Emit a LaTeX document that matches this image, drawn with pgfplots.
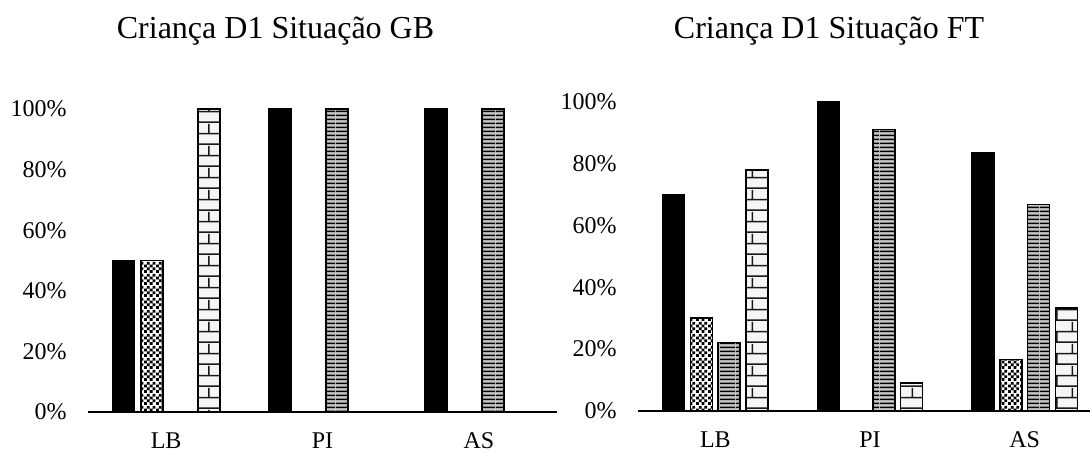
\documentclass[border=0pt]{standalone}
\usepackage{fontspec}
\setmainfont{Liberation Serif}
\usepackage{pgfplots}
\pgfplotsset{compat=1.18}
\usetikzlibrary{patterns.meta}

% fill patterns for the four series
\pgfdeclarepattern{
  name=chk, type=uncolored,
  bottom left={\pgfpointorigin}, top right={\pgfpoint{6pt}{6pt}},
  tile size={\pgfpoint{6pt}{6pt}},
  code={
    \pgfpathrectangle{\pgfpoint{0pt}{0pt}}{\pgfpoint{1.5pt}{1.5pt}}
    \pgfpathrectangle{\pgfpoint{3pt}{0pt}}{\pgfpoint{1.5pt}{1.5pt}}
    \pgfpathrectangle{\pgfpoint{1.5pt}{1.5pt}}{\pgfpoint{1.5pt}{1.5pt}}
    \pgfpathrectangle{\pgfpoint{4.5pt}{1.5pt}}{\pgfpoint{1.5pt}{1.5pt}}
    \pgfpathrectangle{\pgfpoint{0pt}{3pt}}{\pgfpoint{1.5pt}{1.5pt}}
    \pgfpathrectangle{\pgfpoint{3pt}{3pt}}{\pgfpoint{1.5pt}{1.5pt}}
    \pgfpathrectangle{\pgfpoint{1.5pt}{4.5pt}}{\pgfpoint{1.5pt}{1.5pt}}
    \pgfpathrectangle{\pgfpoint{4.5pt}{4.5pt}}{\pgfpoint{1.5pt}{1.5pt}}
    \pgfusepath{fill}
  }
}
\pgfdeclarepattern{
  name=hl, type=uncolored,
  bottom left={\pgfpointorigin}, top right={\pgfpoint{8pt}{1.8pt}},
  tile size={\pgfpoint{8pt}{1.8pt}},
  code={
    \pgfpathrectangle{\pgfpoint{0pt}{0.45pt}}{\pgfpoint{8pt}{0.8pt}}
    \pgfusepath{fill}
  }
}
\pgfdeclarepattern{
  name=brk, type=uncolored,
  bottom left={\pgfpointorigin}, top right={\pgfpoint{16pt}{11pt}},
  tile size={\pgfpoint{16pt}{11pt}},
  code={
    \pgfpathrectangle{\pgfpoint{0pt}{0pt}}{\pgfpoint{16pt}{0.8pt}}
    \pgfpathrectangle{\pgfpoint{0pt}{5.5pt}}{\pgfpoint{16pt}{0.8pt}}
    \pgfpathrectangle{\pgfpoint{0pt}{0pt}}{\pgfpoint{0.8pt}{5.5pt}}
    \pgfpathrectangle{\pgfpoint{8pt}{5.5pt}}{\pgfpoint{0.8pt}{5.5pt}}
    \pgfusepath{fill}
  }
}

\pgfplotsset{
  panel/.style={
    scale only axis,
    bar width=11pt,
    ymin=0, ymax=100,
    xmin=-0.5, xmax=2.5,
    xtick={0,1,2}, xticklabels={LB,PI,AS},
    ytick={0,20,40,60,80,100},
    yticklabels={0\%,20\%,40\%,60\%,80\%,100\%},
    axis lines*=left,
    y axis line style={draw=none},
    x axis line style={line width=0.75pt, black},
    major tick length=0pt,
    tick style={draw=none},
    /pgf/number format/assume math mode=true,
    yticklabel style={font=\fontsize{12}{14}\selectfont, anchor=east, inner sep=0pt, xshift=-10.5pt},
    xticklabel style={font=\fontsize{12}{14}\selectfont, anchor=north, inner sep=0pt, yshift=-10pt},
    clip=false,
  },
  s1/.style={draw=black, line width=0.75pt, fill=black},
  s2/.style={draw=black, line width=0.75pt, fill=white, postaction={pattern=chk, pattern color=black}},
  s3/.style={draw=black, line width=0.75pt, fill=gray!45, postaction={pattern=hl, pattern color=black}},
  s4/.style={draw=black, line width=0.75pt, fill=gray!8, postaction={pattern=brk, pattern color=black!90}},
}

\begin{document}
\begin{tikzpicture}
\path[use as bounding box] (0,0) rectangle (545pt,226pt);

\node[font=\fontsize{16}{19}\selectfont, anchor=base] at (137.75pt,207pt) {Criança D1 Situação GB};
\node[font=\fontsize{16}{19}\selectfont, anchor=base] at (414.5pt,207pt) {Criança D1 Situação FT};

% Situação GB
\begin{axis}[panel, ybar=3.25pt, at={(44pt,20pt)}, anchor=south west,
    width=234.5pt, height=151.5pt]
  \addplot[s1] coordinates {(0,50) (1,100) (2,100)};
  \addplot[s2] coordinates {(0,50)};
  \addplot[s3] coordinates {(1,100) (2,100)};
  \addplot[s4] coordinates {(0,100)};
\end{axis}

% Situação FT
\begin{axis}[panel, ybar=2.9pt, at={(319pt,20.5pt)}, anchor=south west,
    width=232pt, height=154.75pt]
  \addplot[s1] coordinates {(0,70) (1,100) (2,83.3)};
  \addplot[s2] coordinates {(0,30) (2,16.7)};
  \addplot[s3] coordinates {(0,22.2) (1,90.9) (2,66.7)};
  \addplot[s4] coordinates {(0,77.8) (1,9.1) (2,33.3)};
\end{axis}
\end{tikzpicture}
\end{document}
